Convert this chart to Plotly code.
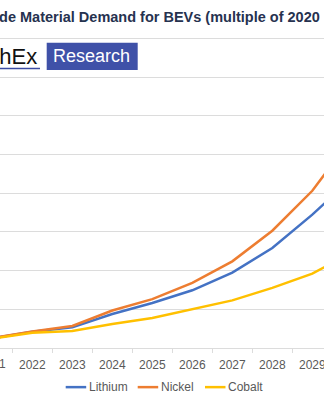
import plotly.graph_objects as go

# Demand index by year (multiple of 2020 level)
years = ["2021", "2022", "2023", "2024", "2025", "2026", "2027", "2028", "2029", "2030"]
lithium = [1.25, 2.09, 2.67, 4.39, 5.81, 7.46, 9.74, 12.93, 17.23, 22.0]
nickel = [1.27, 2.13, 2.84, 4.84, 6.32, 8.41, 11.20, 15.16, 20.32, 27.2]
cobalt = [1.23, 1.96, 2.19, 3.10, 3.87, 4.97, 6.15, 7.77, 9.61, 12.4]

series_names = ["Lithium", "Nickel", "Cobalt"]
series_values = [lithium, nickel, cobalt]
series_colors = ["#4472C4", "#ED7D31", "#FFC000"]

title_text = "Cathode Material Demand for BEVs (multiple of 2020 levels)"
brand_text = "TechEx"
brand_tag = "Research"

W, H = 324, 400
M_T, M_B = 30, 51.5
PLOT_H = H - M_T - M_B
PX_PER_UNIT = 7.75
FONT = "Liberation Sans, Arial, sans-serif"
TEXT_GREY = "#595959"
GRID = "#dcdcdc"


def px(x):
    return x / W


def py(y):
    return (H - M_B - y) / PLOT_H


fig = go.Figure()
for name, vals, col in zip(series_names, series_values, series_colors):
    fig.add_trace(go.Scatter(
        x=years, y=vals, name=name, mode="lines",
        line=dict(color=col, width=2.5), showlegend=False,
    ))

fig.update_layout(
    width=W, height=H,
    margin=dict(l=0, r=0, t=M_T, b=M_B, pad=0),
    paper_bgcolor="white", plot_bgcolor="white",
    font=dict(family=FONT, color=TEXT_GREY, size=12),
    xaxis=dict(
        type="category", range=[0.1925, 8.2925],
        tickson="boundaries", ticks="outside", ticklen=4, tickcolor=GRID,
        showline=True, linecolor=GRID, linewidth=1,
        showgrid=False, tickfont=dict(size=12, color=TEXT_GREY),
        ticklabelstandoff=6, automargin=False,
    ),
    yaxis=dict(
        range=[0, PLOT_H / PX_PER_UNIT], dtick=5, showgrid=True,
        gridcolor=GRID, gridwidth=1, zeroline=False,
        showticklabels=False, ticks="", automargin=False,
    ),
)

shapes = []
annotations = []

# Chart title (wider than the visible canvas)
annotations.append(dict(
    text="<b>" + title_text + "</b>", xref="paper", yref="paper",
    x=px(-44), y=py(16.5), xanchor="left", yanchor="middle",
    showarrow=False, font=dict(size=14.5, color="#26324f", family=FONT),
))

# Brand banner
annotations.append(dict(
    text=brand_text, xref="paper", yref="paper",
    x=px(39), y=py(56.5), xanchor="right", yanchor="middle",
    showarrow=False, font=dict(size=22, color="#111111", family=FONT),
))
shapes.append(dict(
    type="line", xref="paper", yref="paper",
    x0=px(-120), x1=px(40), y0=py(68.5), y1=py(68.5),
    line=dict(color="#3b4ba3", width=1.5),
))
shapes.append(dict(
    type="rect", xref="paper", yref="paper",
    x0=px(46.7), x1=px(137.7), y0=py(70), y1=py(42.7),
    fillcolor="#3f51a8", line=dict(width=0),
))
annotations.append(dict(
    text=brand_tag, xref="paper", yref="paper",
    x=px(91.5), y=py(56.5), xanchor="center", yanchor="middle",
    showarrow=False, font=dict(size=18, color="white", family=FONT),
))

# First category label sits partly off the left edge
annotations.append(dict(
    text=years[0], xref="paper", yref="paper",
    x=px(-7.7), y=py(365), xanchor="center", yanchor="middle",
    showarrow=False, font=dict(size=12, color=TEXT_GREY, family=FONT),
))

# Legend
legend_x = [65.7, 137.7, 205.0]
for name, col, lx in zip(series_names, series_colors, legend_x):
    shapes.append(dict(
        type="line", xref="paper", yref="paper",
        x0=px(lx), x1=px(lx + 20.5), y0=py(387.7), y1=py(387.7),
        line=dict(color=col, width=2.5),
    ))
    annotations.append(dict(
        text=name, xref="paper", yref="paper",
        x=px(lx + 21), y=py(387.7), xanchor="left", yanchor="middle",
        showarrow=False, font=dict(size=12, color=TEXT_GREY, family=FONT),
    ))

fig.update_layout(shapes=shapes, annotations=annotations)
fig.write_html("out.html")
